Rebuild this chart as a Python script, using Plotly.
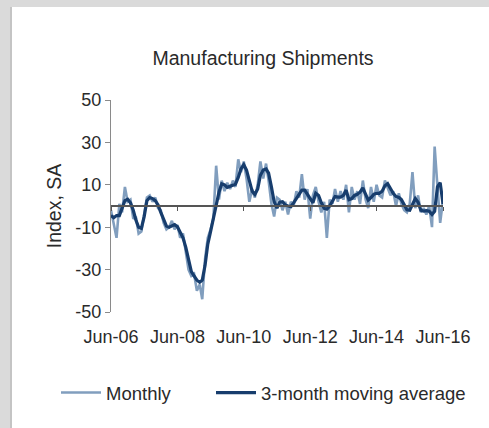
import pandas as pd
import plotly.graph_objects as go

# ---- data ----
start_month = "2006-06-01"
monthly = [
    -2, -9, -15, 1, -3, 9, 2, 3, -6, -5, -13, -12, -3, 4, 5, 2, 4, -1, -2, -8,
    -11, -10, -7, -11, -9, -15, -13, -22, -30, -33, -32, -40, -37, -44, -25, -15, -11, -6, 19, 3,
    12, 7, 11, 8, 12, 9, 22, 16, 21, 13, 2, 8, 4, 10, 21, 13, 20, 12, 1, -5,
    4, 3, -2, 2, -4, 2, 0, 7, 4, 15, 3, 8, -6, 5, 9, 2, -3, 2, -15, 3,
    1, 8, 2, 7, 3, 10, -3, 9, 3, 7, 1, 12, 3, -1, 9, 2, 10, 5, 4, 12,
    8, 5, 7, 0, 6, 1, -2, -3, 1, 16, -1, 5, -3, -1, -4, 0, -10, 28, 9, -8,
    3,
]
moving_avg = [
    -4.5, -5.5, -4.5, -4.5, -1, 2.5, 3.2, 1.5, -2, -6.5, -10, -10.5, -5, 2.5, 4, 3.5, 2.5, 0.5, -3, -6.5,
    -9.5, -10, -9.2, -8.8, -9.8, -12, -15, -19.5, -26, -31, -33, -35, -36, -35, -28, -18, -12, -5.5, 1, 6.5,
    10.5, 10, 8.8, 9.3, 9.6, 10.3, 13.5, 17.5, 19.5, 17, 12, 7, 5.5, 8, 14.5, 17, 17.5, 15.5, 9, 2,
    -1, 1.8, 2, 0.5, 0, -0.3, 1.5, 3.5, 6, 7.5, 7.5, 5.8, 3.5, 1.5, 6, 5, 1.5, -1, -1.5, 0,
    2.4, 4.5, 4.2, 4.2, 5, 7.5, 3, 3.5, 5, 5.5, 6.5, 8.5, 5.5, 2.8, 4, 5.5, 6, 6, 7, 9.5,
    10.5, 8, 6, 4.5, 4, 3, 0.5, -1.8, -2, 0.8, 3.5, 1.8, -2, -2.4, -2.2, -2.5, -4, -2.5, 9, 11,
    1,
]
x_tick_vals = ["2006-06-01", "2008-06-01", "2010-06-01", "2012-06-01", "2014-06-01", "2016-06-01"]
x_tick_text = ["Jun-06", "Jun-08", "Jun-10", "Jun-12", "Jun-14", "Jun-16"]
y_tick_vals = [-50, -30, -10, 10, 30, 50]
y_tick_text = ["-50", "-30", "-10", "10", "30", "50"]

dates = pd.date_range(start_month, periods=len(monthly), freq="MS")

W, H = 489, 428
L, R, T, B = 111, 443, 100, 312  # plot area in px


def px_x(p):
    return (p - L) / (R - L)


def px_y(p):
    return (B - p) / (B - T)


FONT = "Liberation Sans, Arial, sans-serif"
TXT = "#2a2a2a"

fig = go.Figure()
fig.add_trace(go.Scatter(x=dates, y=monthly, mode="lines", name="Monthly", legend="legend",
                         line=dict(color="#819ebe", width=2.6)))
fig.add_trace(go.Scatter(x=dates, y=moving_avg, mode="lines", name="3-month moving average",
                         legend="legend2", line=dict(color="#173d6d", width=3.2)))

xr = [pd.Timestamp(x_tick_vals[0]), pd.Timestamp(x_tick_vals[-1])]

leg_common = dict(orientation="h", yanchor="middle", y=px_y(393), xanchor="left",
                  font=dict(family=FONT, size=18.5, color=TXT), bgcolor="rgba(0,0,0,0)",
                  itemwidth=40)

fig.update_layout(
    width=W, height=H,
    margin=dict(l=L, r=W - R, t=T, b=H - B, autoexpand=False),
    paper_bgcolor="#dadada",
    plot_bgcolor="white",
    font=dict(family=FONT, size=17, color=TXT),
    title=dict(text="Manufacturing Shipments", x=263 / W, xanchor="center",
               y=1 - 58 / H, yanchor="middle", xref="container", yref="container",
               font=dict(family=FONT, size=19.5, color=TXT)),
    showlegend=True,
    legend=dict(leg_common, x=px_x(56)),
    legend2=dict(leg_common, x=px_x(211)),
    xaxis=dict(range=xr, tickvals=x_tick_vals, ticktext=x_tick_text, showgrid=False,
               zeroline=False, showline=False, ticks="", ticklabelstandoff=12,
               tickfont=dict(family=FONT, size=18, color=TXT)),
    xaxis2=dict(range=xr, overlaying="x", anchor="free", position=0.5, side="bottom",
                tickvals=x_tick_vals, showticklabels=False, showgrid=False, zeroline=False,
                showline=True, linecolor="#555555", linewidth=1.5, ticks="outside",
                ticklen=4, tickcolor="#555555", tickwidth=1.2),
    yaxis=dict(range=[-50, 50], tickvals=y_tick_vals, ticktext=y_tick_text, showgrid=False,
               zeroline=False, showline=True, linecolor="#8a8a8a", linewidth=1.2,
               ticks="outside", ticklen=5, tickcolor="#8a8a8a",
               tickfont=dict(family=FONT, size=18, color=TXT),
               title=dict(text="Index, SA", standoff=8, font=dict(family=FONT, size=19.5, color=TXT))),
    shapes=[
        dict(type="rect", xref="paper", yref="paper", x0=px_x(12), x1=px_x(W + 20),
             y0=px_y(H + 20), y1=px_y(7), fillcolor="white", line=dict(width=0), layer="below"),
        dict(type="line", xref="paper", yref="paper", x0=px_x(11), x1=px_x(11),
             y0=px_y(H + 20), y1=px_y(7), line=dict(color="#bdbdbd", width=1.5), layer="below"),
    ],
)

# hidden helper so the zero-line axis (xaxis2) is rendered
fig.add_trace(go.Scatter(x=[dates[0]], y=[0], xaxis="x2", mode="lines", showlegend=False,
                         hoverinfo="skip", line=dict(width=0)))

fig.write_html("out.html", config={"displayModeBar": False},
               post_script="document.body.style.margin='0';document.body.style.overflow='hidden';")
